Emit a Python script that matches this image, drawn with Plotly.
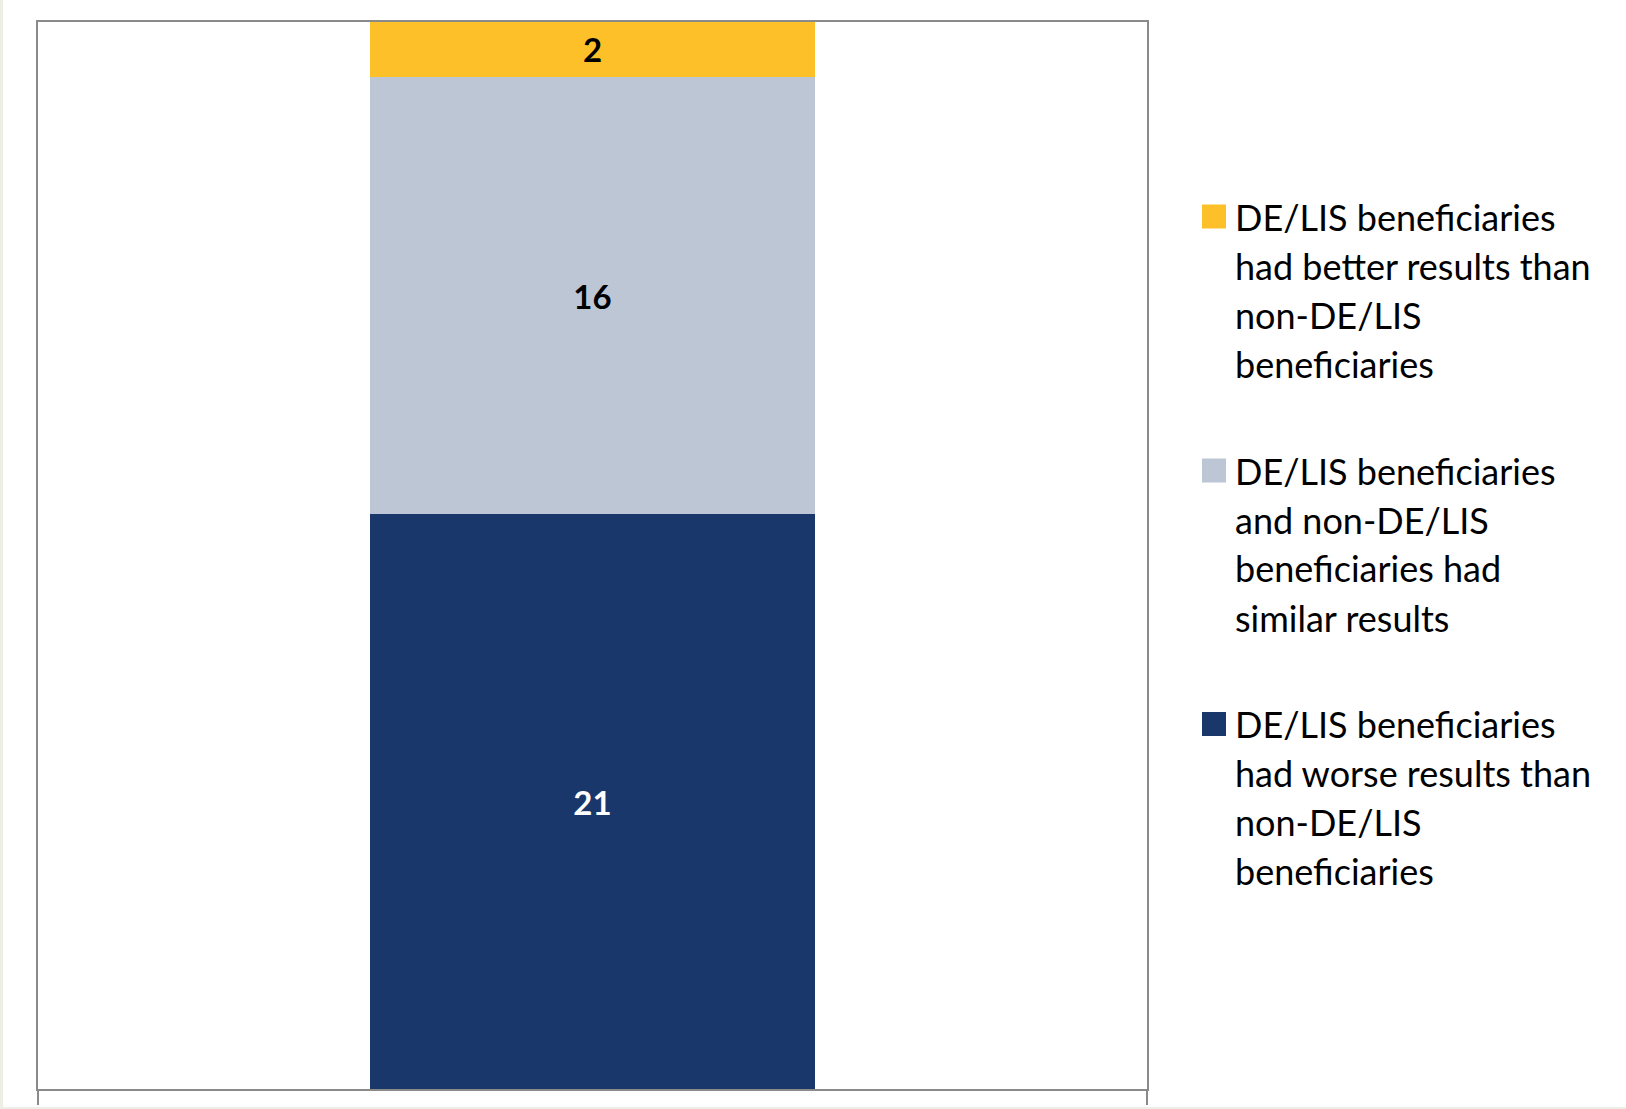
import plotly.graph_objects as go

# ---- data ----
categories = ["Measures"]
series_names = [
    "DE/LIS beneficiaries<br>had worse results than<br>non-DE/LIS<br>beneficiaries",
    "DE/LIS beneficiaries<br>and non-DE/LIS<br>beneficiaries had<br>similar results",
    "DE/LIS beneficiaries<br>had better results than<br>non-DE/LIS<br>beneficiaries",
]
series_values = [[21], [16], [2]]
series_colors = ["#1A376B", "#BDC6D5", "#FDC028"]
label_colors = ["#FFFFFF", "#000000", "#000000"]

W, H = 1626, 1109
L, R, T, B = 38, 1147, 22, 1089  # plot area in pixels


def px_x(px):
    return (px - L) / (R - L)


def px_y(py):
    return (B - py) / (B - T)


fig = go.Figure()
for name, vals, col, lc in zip(series_names, series_values, series_colors, label_colors):
    fig.add_trace(go.Bar(
        x=categories, y=vals, name=name,
        marker=dict(color=col, line=dict(width=0)),
        text=[str(v) for v in vals], textposition="inside",
        insidetextanchor="middle",
        textfont=dict(family="Lato", size=33, color=lc, weight="bold"),
        showlegend=False,
    ))

total = sum(v[0] for v in series_values)

# manual legend (top to bottom: better, similar, worse)
legend_centers = [216.5, 470.5, 724]
line_step = 49
shapes = [
    dict(type="rect", xref="paper", yref="paper",
         x0=px_x(3), x1=px_x(W + 5), y0=px_y(-5), y1=px_y(1107),
         fillcolor="white", line=dict(width=0), layer="below"),
]
annotations = []
for i, idx in enumerate([2, 1, 0]):
    cy = legend_centers[i]
    shapes.append(dict(type="rect", xref="paper", yref="paper",
                       x0=px_x(1202), x1=px_x(1226), y0=px_y(cy + 12), y1=px_y(cy - 12),
                       fillcolor=series_colors[idx], line=dict(width=0)))
    for j, line in enumerate(series_names[idx].split("<br>")):
        annotations.append(dict(
            xref="paper", yref="paper", x=px_x(1233), y=px_y(cy + j * line_step),
            xanchor="left", yanchor="middle", text=line, showarrow=False,
            font=dict(family="Lato", size=36, color="#000000"), align="left",
        ))

fig.update_layout(
    width=W, height=H,
    margin=dict(l=L, r=W - R, t=T, b=H - B, pad=0, autoexpand=False),
    paper_bgcolor="#EFEEE6", plot_bgcolor="white",
    barmode="stack", bargap=0.598,
    shapes=shapes, annotations=annotations,
    showlegend=False,
    uniformtext=dict(minsize=10, mode="show"),
)
fig.update_xaxes(
    range=[-0.5, 0.5], showticklabels=False, tickson="boundaries",
    ticks="outside", ticklen=14, tickwidth=2, tickcolor="#8A8A8A",
    showline=True, linecolor="#8A8A8A", linewidth=2, mirror=True,
    showgrid=False, zeroline=False, automargin=False,
)
fig.update_yaxes(
    range=[0, total], showticklabels=False, ticks="",
    showline=True, linecolor="#8A8A8A", linewidth=2, mirror=True,
    showgrid=False, zeroline=False, automargin=False,
)

fig.write_html(
    "out.html",
    config={"displayModeBar": False},
    post_script="document.body.style.margin='0';",
)
